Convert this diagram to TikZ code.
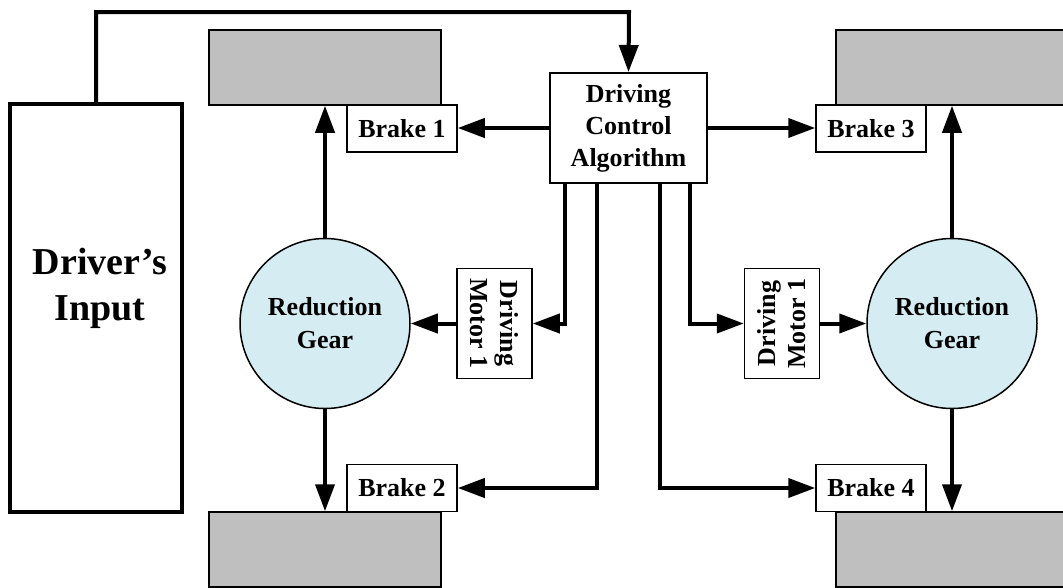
\documentclass[tikz,border=0pt]{standalone}
\usepackage{fontspec}
\setmainfont{Liberation Serif}
\usetikzlibrary{arrows.meta}
\definecolor{wheelgray}{HTML}{BFBFBF}
\definecolor{gearblue}{HTML}{D5EDF2}
\tikzset{
  wheel/.style={draw, fill=wheelgray, line width=1.5pt, minimum width=232pt, minimum height=75pt, inner sep=0pt},
  brakebox/.style={draw, fill=white, line width=1.5pt, minimum width=110pt, minimum height=47pt, inner sep=0pt,
    font=\fontsize{26}{30}\selectfont\bfseries},
  ctrlbox/.style={draw, fill=white, line width=2pt, minimum width=157pt, minimum height=110pt, inner sep=0pt, align=center,
    font=\fontsize{26}{32}\selectfont\bfseries},
  motorbox/.style={draw, fill=white, line width=1.5pt, minimum width=110pt, minimum height=75pt, inner sep=0pt, align=center,
    font=\fontsize{26}{30}\selectfont\bfseries},
  gear/.style={circle, draw, fill=gearblue, line width=1.5pt, minimum size=170pt, inner sep=0pt, align=center,
    font=\fontsize{26}{33}\selectfont\bfseries},
  inputbox/.style={draw, line width=4pt, minimum width=172pt, minimum height=408pt, inner sep=0pt},
  conn/.style={line width=4pt, -{Triangle[length=27pt,width=19pt]}},
}
\begin{document}
\begin{tikzpicture}[x=1pt,y=-1pt]
\useasboundingbox (0,0) rectangle (1063,587);
\begin{scope}
\clip (0,0) rectangle (1063,587);
\node[wheel] (wTL) at (325,67.5) {};
\node[wheel] (wTR) at (952,67.5) {};
\node[wheel] (wBL) at (325,549.5) {};
\node[wheel] (wBR) at (952,549.5) {};
\end{scope}

\node[inputbox] (drv) at (96,308) {};
\node[align=center, font=\fontsize{38}{46}\selectfont\bfseries] (drvtxt) at (100,288) {Driver’s\\ Input};

\node[brakebox] (b1) at (402,128.5) {Brake 1};
\node[brakebox] (b3) at (871,128.5) {Brake 3};
\node[brakebox] (b2) at (402,488) {Brake 2};
\node[brakebox] (b4) at (871,488) {Brake 4};

\node[ctrlbox] (dca) at (628.5,128) {Driving\\ Control\\ Algorithm};

\node[motorbox, rotate=-90] (m1) at (494.5,323.5) {Driving\\ Motor 1};
\node[motorbox, rotate=90] (m2) at (782,323.5) {Driving\\ Motor 1};

\node[gear] (g1) at (325,323.5) {Reduction\\ Gear};
\node[gear] (g2) at (952,323.5) {Reduction\\ Gear};

\coordinate (topturn) at (629,12);
\draw[conn] (drv.north) |- (topturn) -- (dca.north);

\draw[conn] (dca.west) -- (dca.west -| b1.east);
\draw[conn] (dca.east) -- (dca.east -| b3.west);

\draw[conn] (g1.north) -- (g1.north |- wTL.south);
\draw[conn] (g1.south) -- (g1.south |- wBL.north);
\draw[conn] (g2.north) -- (g2.north |- wTR.south);
\draw[conn] (g2.south) -- (g2.south |- wBR.north);

\draw[conn] (m1) -- (g1);
\draw[conn] (m2) -- (g2);

\draw[conn] ([xshift=-63.5pt]dca.south) |- (m1);
\draw[conn] ([xshift=-31.5pt]dca.south) |- (b2);
\draw[conn] ([xshift=31.5pt]dca.south) |- (b4);
\draw[conn] ([xshift=61.5pt]dca.south) |- (m2);
\end{tikzpicture}
\end{document}
